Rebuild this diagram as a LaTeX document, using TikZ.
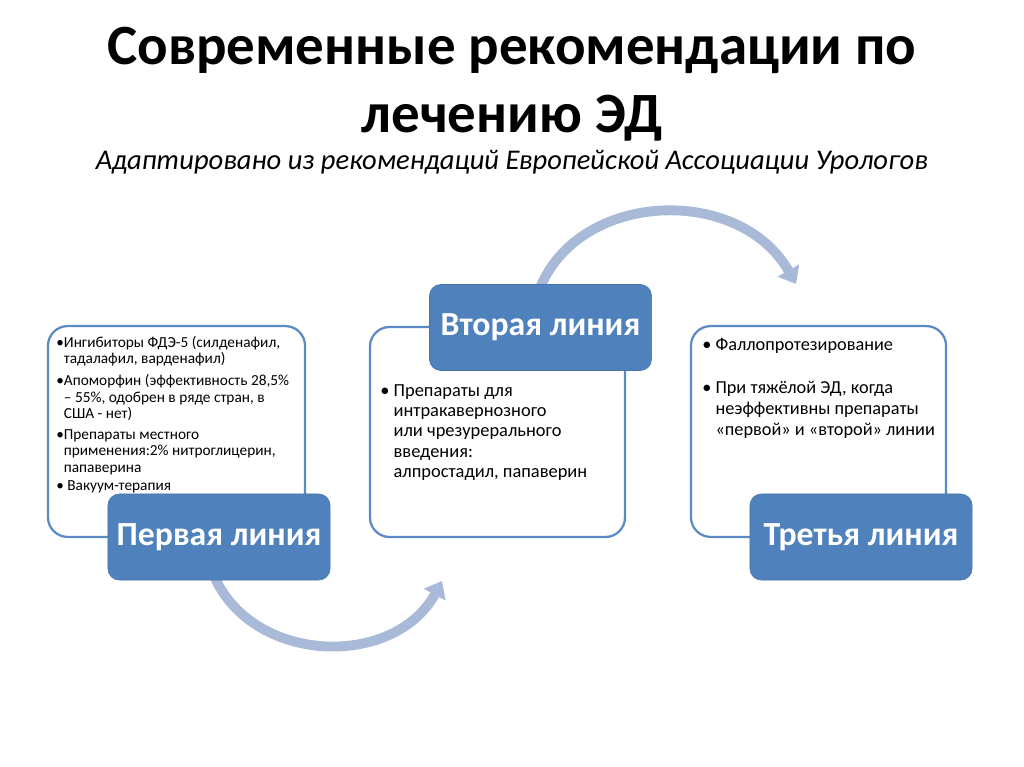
\documentclass[tikz,border=0pt]{standalone}
\usepackage{fontspec}
\setmainfont{Carlito}
\usepackage{tikz}
\usetikzlibrary{arrows.meta, positioning}

\definecolor{linefill}{HTML}{4F81BD}
\definecolor{panelline}{HTML}{5B8AC4}
\definecolor{arcblue}{HTML}{A8BAD8}

\tikzset{
    linebox/.style={draw=linefill!90!black, fill=linefill, rounded corners=8pt,
        minimum width=5.55cm, minimum height=2.15cm, text=white,
        font=\fontsize{24}{28}\selectfont\bfseries},
    panel/.style={draw=panelline, line width=1.6pt, fill=white, rounded corners=14pt,
        minimum height=5.27cm},
    flowarc/.style={draw=arcblue, line width=7pt,
        -{Triangle[width=17pt, length=11pt]}},
    itemtext/.style={anchor=north west, align=left, inner sep=0pt}
}

\begin{document}
\begin{tikzpicture}[x=0.025cm, y=-0.025cm]
            \useasboundingbox (0,0) rectangle (1024,767);

            % 1. Title
            \node[align=center, font=\fontsize{40.5}{48}\selectfont\bfseries] (title) at (512,84)
                {Современные рекомендации по\\лечению ЭД};
            \node[font=\fontsize{20.3}{24}\selectfont\itshape] (subtitle) at (512,162)
                {Адаптировано из рекомендаций Европейской Ассоциации Урологов};

            % 2. Arcs (behind the boxes)
            \coordinate (arcAstart) at (215,578);
            \coordinate (arcAend) at (442,581);
            \coordinate (arcBstart) at (540,288);
            \coordinate (arcBend) at (796,284);
            \draw[flowarc] (arcAstart) .. controls (255,665) and (395,668) .. (arcAend);
            \draw[flowarc] (arcBstart) .. controls (580,190) and (740,185) .. (arcBend);

            % 3. Panels
            \node[panel, minimum width=6.425cm] (leftpanel) at (176.5,431.5) {};
            \node[panel, minimum width=6.375cm, minimum height=5.25cm] (midpanel) at (497.5,432) {};
            \node[panel, minimum width=6.375cm] (rightpanel) at (818.5,431.5) {};

            % 4. Panel texts
            \node[itemtext, font=\fontsize{10.9}{11.6}\selectfont] (firstitems) at (56,336)
                {\textbullet Ингибиторы ФДЭ-5 (силденафил,\\
                 \phantom{\textbullet}тадалафил, варденафил)\\[4pt]
                 \textbullet Апоморфин (эффективность 28,5\%\\
                 \phantom{\textbullet}– 55\%, одобрен в ряде стран, в\\
                 \phantom{\textbullet}США - нет)\\[3.5pt]
                 \textbullet Препараты местного\\
                 \phantom{\textbullet}применения:2\% нитроглицерин,\\
                 \phantom{\textbullet}папаверина\\[1.5pt]
                 \textbullet\ Вакуум-терапия};
            \node[itemtext, font=\fontsize{13.1}{14.5}\selectfont] (seconditems) at (380,384)
                {\textbullet\ Препараты для\\
                 \phantom{\textbullet\ }интракавернозного\\
                 \phantom{\textbullet\ }или чрезурерального\\
                 \phantom{\textbullet\ }введения:\\
                 \phantom{\textbullet\ }алпростадил, папаверин};
            \node[itemtext, font=\fontsize{13}{14.9}\selectfont] (thirditems) at (702,338)
                {\textbullet\ Фаллопротезирование\\[16pt]
                 \textbullet\ При тяжёлой ЭД, когда\\
                 \phantom{\textbullet\ }неэффективны препараты\\
                 \phantom{\textbullet\ }«первой» и «второй» линии};

            % 5. Line labels
            \node[linebox] (first) at (219,537) {Первая линия};
            \node[linebox] (second) at (540.5,327.5) {Вторая линия};
            \node[linebox] (third) at (861,537) {Третья линия};

\end{tikzpicture}
\end{document}
